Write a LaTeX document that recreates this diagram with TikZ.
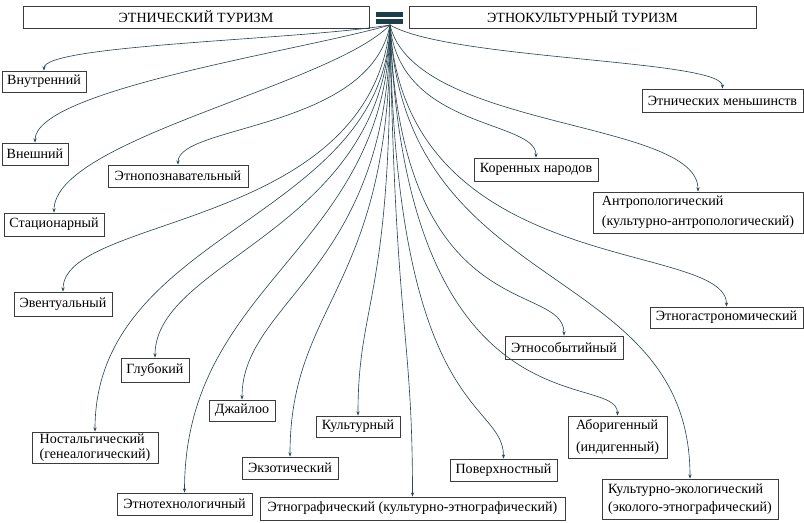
\documentclass[tikz,border=0pt]{standalone}
\usepackage{fontspec}
\setmainfont{Liberation Serif}
\usepackage{xcolor}
\usepackage{tikz}
\usetikzlibrary{arrows.meta,calc}
\definecolor{hubcol}{RGB}{28,62,72}
\definecolor{linkcol}{RGB}{45,72,82}
\definecolor{boxcol}{RGB}{60,60,60}

\begin{document}
\begin{tikzpicture}[x=0.025cm,y=-0.025cm,
  head/.style={draw=boxcol,line width=0.5pt,minimum height=0.55cm,inner sep=1pt,
               font=\fontsize{10}{12}\selectfont},
  kind/.style={draw=boxcol,line width=0.6pt,inner sep=1pt,align=left,
               font=\fontsize{10}{12}\selectfont},
  link/.style={-{Stealth[length=3pt,width=2.4pt]},linkcol,line width=0.45pt}
]
\useasboundingbox (0,0) rectangle (804,523);
% Headings
\node[head,minimum width=8.65cm] (etn) at (196,17) {ЭТНИЧЕСКИЙ ТУРИЗМ};
\node[head,minimum width=8.675cm] (etnk) at (582.5,17) {ЭТНОКУЛЬТУРНЫЙ ТУРИЗМ};
% Equality sign between the headings
\fill[hubcol] (376,12) rectangle (403,17);
\fill[hubcol] (376,19) rectangle (403,24);
\coordinate (hub) at (390,25);
% Kinds, left side
\node[kind,minimum width=2.1cm,minimum height=0.525cm] (vnutr) at (44,81.5) {Внутренний};
\node[kind,minimum width=1.65cm,minimum height=0.55cm] (vnesh) at (35,154) {Внешний};
\node[kind,minimum width=3.5cm,minimum height=0.55cm] (etnopozn) at (178,176) {Этнопознавательный};
\node[kind,minimum width=2.5cm,minimum height=0.575cm] (stats) at (54,224.5) {Стационарный};
\node[kind,minimum width=2.45cm,minimum height=0.6cm] (event) at (63,304) {Эвентуальный};
\node[kind,minimum width=1.7cm,minimum height=0.6cm] (glub) at (155,370) {Глубокий};
\node[kind,minimum width=3.15cm,minimum height=0.775cm,font=\fontsize{10}{11}\selectfont]
  (nostal) at (95,447.5) {Ностальгический\\(генеалогический)};
\node[kind,minimum width=1.65cm,minimum height=0.525cm] (jail) at (242,410.5) {Джайлоо};
\node[kind,minimum width=2.1cm,minimum height=0.525cm] (kult) at (358,426.5) {Культурный};
\node[kind,minimum width=2.4cm,minimum height=0.55cm] (ekzot) at (290,468) {Экзотический};
\node[kind,minimum width=3.375cm,minimum height=0.55cm] (etnotech) at (184.5,504) {Этнотехнологичный};
\node[kind,minimum width=7.625cm,minimum height=0.575cm] (etnograf) at (412.5,508.5)
  {Этнографический (культурно-этнографический)};
% Kinds, right side
\node[kind,minimum width=4.025cm,minimum height=0.575cm] (menshin) at (722.5,100.5) {Этнических меньшинств};
\node[kind,minimum width=3.1cm,minimum height=0.575cm] (koren) at (536,169.5) {Коренных народов};
\node[kind,minimum width=5.25cm,minimum height=1.025cm,font=\fontsize{10}{14}\selectfont]
  (antrop) at (698,212.5) {Антропологический\\(культурно-антропологический)};
\node[kind,minimum width=3.825cm,minimum height=0.525cm] (etnogastr) at (726.5,317.5) {Этногастрономический};
\node[kind,minimum width=2.95cm,minimum height=0.575cm] (etnosob) at (564,347.5) {Этнособытийный};
\node[kind,minimum width=2.475cm,minimum height=1.05cm,font=\fontsize{10}{15}\selectfont]
  (abor) at (617.5,437) {Аборигенный\\(индигенный)};
\node[kind,minimum width=2.675cm,minimum height=0.55cm] (poverkh) at (503.5,470) {Поверхностный};
\node[kind,minimum width=4.4cm,minimum height=1.0cm,font=\fontsize{10}{12.5}\selectfont]
  (kulteko) at (690,499) {Культурно-экологический\\(эколого-этнографический)};
% Links from the hub
\foreach \dst/\ax/\ay/\l in {vnutr/300/40/26, vnesh/300/51/53, stats/330/86/73,
    etnopozn/370/130/40, event/370/230/77, nostal/385/220/202, glub/385/230/98,
    etnotech/388/250/213, jail/390/270/100, ekzot/392/290/157, kult/392/300/116,
    etnograf/395/330/167, menshin/450/60/29, antrop/415/130/72, koren/400/130/38,
    etnogastr/405/280/67, kulteko/405/300/219, etnosob/400/330/56,
    abor/405/440/46, poverkh/395/420/59}
  \draw[link] (hub) .. controls (\ax,\ay) and ($(\dst.north)+(0,-\l)$) .. (\dst.north);
\end{tikzpicture}
\end{document}
